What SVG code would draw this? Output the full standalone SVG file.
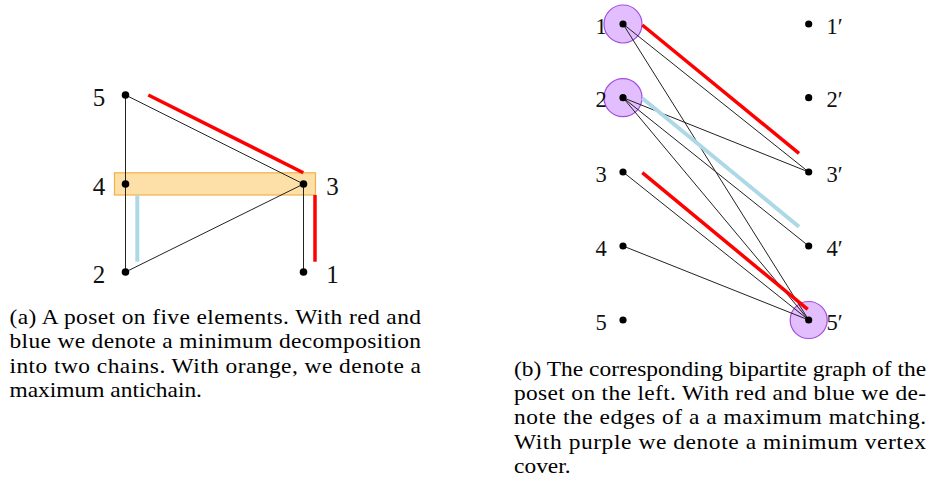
<svg xmlns="http://www.w3.org/2000/svg" width="936" height="500" viewBox="0 0 936 500">
<style>
.edge{stroke:#222;stroke-width:1;fill:none}
.red{stroke:#ff0000;stroke-width:3.5;fill:none}
.blue{stroke:#add8e6;stroke-width:4;fill:none}
.dot{fill:#000}
text{font-family:'Liberation Serif',serif}
.lblA{font-size:25px;fill:#111}
.lblB{font-size:22.5px;fill:#111}
.cap{font-size:21.5px;fill:#000}
.cover{fill:#c77dff;fill-opacity:0.5;stroke:#a34ee0;stroke-width:1.2}
</style>
<rect width="936" height="500" fill="#fff"/>

<!-- (a) poset -->
<g id="antichain">
<rect x="114.5" y="172.8" width="201" height="22.2" fill="#fde0a8" stroke="#f2b04a" stroke-width="1.2"/>
</g>
<g id="connectors-a">
<line class="edge" x1="125.5" y1="95" x2="125.5" y2="184"/>
<line class="edge" x1="125.5" y1="184" x2="125.5" y2="272"/>
<line class="edge" x1="125.5" y1="95" x2="303.5" y2="184"/>
<line class="edge" x1="125.5" y1="272" x2="303.5" y2="184"/>
<line class="edge" x1="303.5" y1="184" x2="303.5" y2="272"/>
<line class="red" x1="148.3" y1="95" x2="303.3" y2="172.7"/>
<line class="red" x1="315" y1="195" x2="315" y2="261.7"/>
<line class="blue" x1="137.3" y1="195.5" x2="137.3" y2="261.7"/>
</g>
<g id="a5"><circle class="dot" cx="125.5" cy="95" r="3.8"/><text class="lblA" x="99" y="106" text-anchor="middle">5</text></g>
<g id="a4"><circle class="dot" cx="125.5" cy="184" r="3.8"/><text class="lblA" x="99" y="195" text-anchor="middle">4</text></g>
<g id="a3"><circle class="dot" cx="303.5" cy="184" r="3.8"/><text class="lblA" x="332.5" y="195" text-anchor="middle">3</text></g>
<g id="a2"><circle class="dot" cx="125.5" cy="272" r="3.8"/><text class="lblA" x="99" y="283" text-anchor="middle">2</text></g>
<g id="a1"><circle class="dot" cx="303.5" cy="272" r="3.8"/><text class="lblA" x="332.5" y="283" text-anchor="middle">1</text></g>

<!-- (b) bipartite graph -->
<g id="cover">
<circle class="cover" cx="623" cy="24" r="19"/>
<circle class="cover" cx="623" cy="97.7" r="19"/>
<circle class="cover" cx="808.7" cy="320" r="18.5"/>
</g>
<g id="connectors-b">
<line class="edge" x1="623" y1="24" x2="808.7" y2="172"/>
<line class="edge" x1="623" y1="24" x2="808.7" y2="320"/>
<line class="edge" x1="623" y1="97.7" x2="808.7" y2="172"/>
<line class="edge" x1="623" y1="97.7" x2="808.7" y2="246"/>
<line class="edge" x1="623" y1="97.7" x2="808.7" y2="320"/>
<line class="edge" x1="623" y1="172" x2="808.7" y2="320"/>
<line class="edge" x1="623" y1="246" x2="808.7" y2="320"/>
<line class="red" x1="642.3" y1="25" x2="799" y2="153.3"/>
<line class="blue" x1="642.3" y1="98.3" x2="799" y2="226.7"/>
<line class="red" x1="642.3" y1="172.7" x2="807.7" y2="309.3"/>
</g>
<g id="b1"><circle class="dot" cx="623" cy="24" r="3.6"/><text class="lblB" x="601" y="33.5" text-anchor="middle">1</text></g>
<g id="b2"><circle class="dot" cx="623" cy="97.7" r="3.6"/><text class="lblB" x="601" y="107.2" text-anchor="middle">2</text></g>
<g id="b3"><circle class="dot" cx="623" cy="172" r="3.6"/><text class="lblB" x="601" y="181.5" text-anchor="middle">3</text></g>
<g id="b4"><circle class="dot" cx="623" cy="246" r="3.6"/><text class="lblB" x="601" y="255.5" text-anchor="middle">4</text></g>
<g id="b5"><circle class="dot" cx="623" cy="320" r="3.6"/><text class="lblB" x="601" y="329.5" text-anchor="middle">5</text></g>
<g id="b1p"><circle class="dot" cx="808.7" cy="24" r="3.6"/><text class="lblB" x="826.5" y="33.5">1′</text></g>
<g id="b2p"><circle class="dot" cx="808.7" cy="97.7" r="3.6"/><text class="lblB" x="826.5" y="107.2">2′</text></g>
<g id="b3p"><circle class="dot" cx="808.7" cy="172" r="3.6"/><text class="lblB" x="826.5" y="181.5">3′</text></g>
<g id="b4p"><circle class="dot" cx="808.7" cy="246" r="3.6"/><text class="lblB" x="826.5" y="255.5">4′</text></g>
<g id="b5p"><circle class="dot" cx="808.7" cy="320" r="3.6"/><text class="lblB" x="826.5" y="329.5">5′</text></g>

<!-- captions (horizontally widened to match the reference face) -->
<g id="caption-a" transform="scale(1.09,1)">
<text class="cap" x="8.72" y="324" textLength="377.5" lengthAdjust="spacing">(a) A poset on five elements.  With red and</text>
<text class="cap" x="8.72" y="348.3" textLength="377.5" lengthAdjust="spacing">blue we denote a minimum decomposition</text>
<text class="cap" x="8.72" y="372.6" textLength="377.5" lengthAdjust="spacing">into two chains.  With orange, we denote a</text>
<text class="cap" x="8.72" y="396.9">maximum antichain.</text>
</g>
<g id="caption-b" transform="scale(1.09,1)">
<text class="cap" x="471.6" y="375.7" textLength="378" lengthAdjust="spacing">(b) The corresponding bipartite graph of the</text>
<text class="cap" x="471.6" y="400" textLength="378" lengthAdjust="spacing">poset on the left.  With red and blue we de-</text>
<text class="cap" x="471.6" y="424.3" textLength="378" lengthAdjust="spacing">note the edges of a a maximum matching.</text>
<text class="cap" x="471.6" y="448.6" textLength="378" lengthAdjust="spacing">With purple we denote a minimum vertex</text>
<text class="cap" x="471.6" y="473">cover.</text>
</g>
</svg>
